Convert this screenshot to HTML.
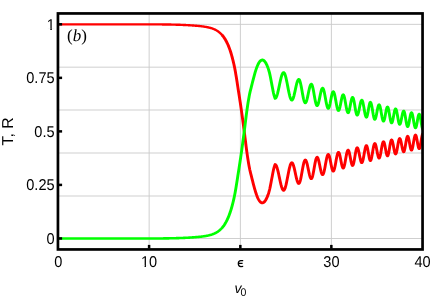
<!DOCTYPE html>
<html><head><meta charset="utf-8"><style>
html,body{margin:0;padding:0;background:#fff;}
svg{display:block}
text{font-family:"Liberation Sans",sans-serif;font-size:14px;fill:#000;text-rendering:geometricPrecision}
</style></head><body>
<svg width="436" height="300" viewBox="0 0 436 300">
<defs><clipPath id="cp"><rect x="58" y="13" width="364.5" height="236"/></clipPath></defs>
<rect width="436" height="300" fill="#fff"/>
<g stroke="#cacaca" stroke-width="0.9" fill="none"><line x1="149.15" y1="13" x2="149.15" y2="249" /><line x1="240.40" y1="13" x2="240.40" y2="249" /><line x1="331.40" y1="13" x2="331.40" y2="249" /><line x1="58" y1="238.50" x2="422.5" y2="238.50" /><line x1="58" y1="196.00" x2="422.5" y2="196.00" /><line x1="58" y1="153.00" x2="422.5" y2="153.00" /><line x1="58" y1="110.00" x2="422.5" y2="110.00" /><line x1="58" y1="67.17" x2="422.5" y2="67.17" /><line x1="58" y1="24.36" x2="422.5" y2="24.36" /></g>
<g fill="none" stroke-linejoin="round" stroke-linecap="butt" clip-path="url(#cp)">
<path d="M58.25,24.36 L58.65,24.36 L59.05,24.36 L59.45,24.36 L59.85,24.36 L60.25,24.36 L60.65,24.36 L61.05,24.36 L61.45,24.36 L61.85,24.36 L62.25,24.36 L62.65,24.36 L63.05,24.36 L63.45,24.36 L63.85,24.36 L64.25,24.36 L64.65,24.36 L65.05,24.36 L65.45,24.36 L65.85,24.36 L66.25,24.36 L66.65,24.36 L67.05,24.36 L67.45,24.36 L67.85,24.36 L68.25,24.36 L68.65,24.36 L69.05,24.36 L69.45,24.36 L69.85,24.36 L70.25,24.36 L70.65,24.36 L71.05,24.36 L71.45,24.36 L71.85,24.36 L72.25,24.36 L72.65,24.36 L73.05,24.36 L73.45,24.36 L73.85,24.36 L74.25,24.36 L74.65,24.36 L75.05,24.36 L75.45,24.36 L75.85,24.36 L76.25,24.36 L76.65,24.36 L77.05,24.36 L77.45,24.36 L77.85,24.36 L78.25,24.36 L78.65,24.36 L79.05,24.36 L79.45,24.36 L79.85,24.36 L80.25,24.36 L80.65,24.36 L81.05,24.36 L81.45,24.36 L81.85,24.36 L82.25,24.36 L82.65,24.36 L83.05,24.36 L83.45,24.36 L83.85,24.36 L84.25,24.36 L84.65,24.36 L85.05,24.36 L85.45,24.36 L85.85,24.36 L86.25,24.36 L86.65,24.36 L87.05,24.36 L87.45,24.36 L87.85,24.36 L88.25,24.36 L88.65,24.36 L89.05,24.36 L89.45,24.36 L89.85,24.36 L90.25,24.36 L90.65,24.36 L91.05,24.36 L91.45,24.36 L91.85,24.36 L92.25,24.36 L92.65,24.36 L93.05,24.36 L93.45,24.36 L93.85,24.36 L94.25,24.36 L94.65,24.36 L95.05,24.36 L95.45,24.36 L95.85,24.36 L96.25,24.36 L96.65,24.36 L97.05,24.36 L97.45,24.36 L97.85,24.36 L98.25,24.36 L98.65,24.36 L99.05,24.36 L99.45,24.36 L99.85,24.36 L100.25,24.36 L100.65,24.36 L101.05,24.36 L101.45,24.36 L101.85,24.36 L102.25,24.36 L102.65,24.36 L103.05,24.36 L103.45,24.36 L103.85,24.36 L104.25,24.36 L104.65,24.36 L105.05,24.36 L105.45,24.36 L105.85,24.36 L106.25,24.36 L106.65,24.36 L107.05,24.36 L107.45,24.36 L107.85,24.36 L108.25,24.36 L108.65,24.36 L109.05,24.36 L109.45,24.36 L109.85,24.36 L110.25,24.36 L110.65,24.36 L111.05,24.36 L111.45,24.36 L111.85,24.36 L112.25,24.36 L112.65,24.36 L113.05,24.36 L113.45,24.36 L113.85,24.36 L114.25,24.36 L114.65,24.36 L115.05,24.36 L115.45,24.36 L115.85,24.36 L116.25,24.36 L116.65,24.36 L117.05,24.36 L117.45,24.36 L117.85,24.36 L118.25,24.36 L118.65,24.36 L119.05,24.36 L119.45,24.36 L119.85,24.36 L120.25,24.36 L120.65,24.36 L121.05,24.36 L121.45,24.36 L121.85,24.36 L122.25,24.36 L122.65,24.36 L123.05,24.36 L123.45,24.36 L123.85,24.36 L124.25,24.36 L124.65,24.36 L125.05,24.36 L125.45,24.36 L125.85,24.36 L126.25,24.36 L126.65,24.36 L127.05,24.36 L127.45,24.36 L127.85,24.36 L128.25,24.36 L128.65,24.36 L129.05,24.36 L129.45,24.36 L129.85,24.36 L130.25,24.36 L130.65,24.36 L131.05,24.36 L131.45,24.36 L131.85,24.36 L132.25,24.36 L132.65,24.36 L133.05,24.36 L133.45,24.37 L133.85,24.37 L134.25,24.37 L134.65,24.37 L135.05,24.37 L135.45,24.37 L135.85,24.37 L136.25,24.37 L136.65,24.37 L137.05,24.37 L137.45,24.37 L137.85,24.37 L138.25,24.37 L138.65,24.37 L139.05,24.37 L139.45,24.37 L139.85,24.37 L140.25,24.37 L140.65,24.37 L141.05,24.37 L141.45,24.37 L141.85,24.37 L142.25,24.37 L142.65,24.38 L143.05,24.38 L143.45,24.38 L143.85,24.38 L144.25,24.38 L144.65,24.38 L145.05,24.38 L145.45,24.38 L145.85,24.38 L146.25,24.38 L146.65,24.38 L147.05,24.38 L147.45,24.38 L147.85,24.38 L148.25,24.38 L148.65,24.38 L149.05,24.39 L149.45,24.39 L149.85,24.39 L150.25,24.39 L150.65,24.39 L151.05,24.39 L151.45,24.39 L151.85,24.39 L152.25,24.39 L152.65,24.39 L153.05,24.39 L153.45,24.39 L153.85,24.40 L154.25,24.40 L154.65,24.40 L155.05,24.40 L155.45,24.40 L155.85,24.40 L156.25,24.40 L156.65,24.40 L157.05,24.40 L157.45,24.40 L157.85,24.40 L158.25,24.41 L158.65,24.41 L159.05,24.41 L159.45,24.41 L159.85,24.41 L160.25,24.41 L160.65,24.41 L161.05,24.42 L161.45,24.42 L161.85,24.42 L162.25,24.43 L162.65,24.43 L163.05,24.43 L163.45,24.44 L163.85,24.44 L164.25,24.45 L164.65,24.45 L165.05,24.46 L165.45,24.46 L165.85,24.47 L166.25,24.48 L166.65,24.48 L167.05,24.49 L167.45,24.50 L167.85,24.50 L168.25,24.51 L168.65,24.52 L169.05,24.53 L169.45,24.54 L169.85,24.54 L170.25,24.55 L170.65,24.56 L171.05,24.57 L171.45,24.58 L171.85,24.59 L172.25,24.60 L172.65,24.61 L173.05,24.62 L173.45,24.62 L173.85,24.63 L174.25,24.64 L174.65,24.65 L175.05,24.66 L175.45,24.67 L175.85,24.68 L176.25,24.69 L176.65,24.70 L177.05,24.72 L177.45,24.73 L177.85,24.74 L178.25,24.75 L178.65,24.76 L179.05,24.78 L179.45,24.79 L179.85,24.81 L180.25,24.82 L180.65,24.83 L181.05,24.85 L181.45,24.86 L181.85,24.88 L182.25,24.90 L182.65,24.91 L183.05,24.93 L183.45,24.95 L183.85,24.96 L184.25,24.98 L184.65,25.00 L185.05,25.02 L185.45,25.04 L185.85,25.06 L186.25,25.08 L186.65,25.10 L187.05,25.12 L187.45,25.14 L187.85,25.16 L188.25,25.18 L188.65,25.21 L189.05,25.23 L189.45,25.25 L189.85,25.28 L190.25,25.31 L190.65,25.33 L191.05,25.36 L191.45,25.39 L191.85,25.41 L192.25,25.44 L192.65,25.47 L193.05,25.50 L193.45,25.53 L193.85,25.56 L194.25,25.59 L194.65,25.62 L195.05,25.65 L195.45,25.69 L195.85,25.72 L196.25,25.75 L196.65,25.79 L197.05,25.82 L197.45,25.86 L197.85,25.89 L198.25,25.93 L198.65,25.97 L199.05,26.01 L199.45,26.05 L199.85,26.09 L200.25,26.13 L200.65,26.18 L201.05,26.22 L201.45,26.27 L201.85,26.32 L202.25,26.37 L202.65,26.42 L203.05,26.47 L203.45,26.53 L203.85,26.59 L204.25,26.64 L204.65,26.70 L205.05,26.77 L205.45,26.83 L205.85,26.90 L206.25,26.97 L206.65,27.05 L207.05,27.12 L207.45,27.20 L207.85,27.28 L208.25,27.37 L208.65,27.46 L209.05,27.56 L209.45,27.65 L209.85,27.76 L210.25,27.87 L210.65,27.98 L211.05,28.10 L211.45,28.22 L211.85,28.35 L212.25,28.49 L212.65,28.63 L213.05,28.78 L213.45,28.94 L213.85,29.10 L214.25,29.28 L214.65,29.46 L215.05,29.65 L215.45,29.85 L215.85,30.06 L216.25,30.28 L216.65,30.51 L217.05,30.75 L217.45,31.00 L217.85,31.27 L218.25,31.55 L218.65,31.84 L219.05,32.15 L219.45,32.47 L219.85,32.81 L220.25,33.17 L220.65,33.54 L221.05,33.93 L221.45,34.35 L221.85,34.78 L222.25,35.23" stroke="#ff0000" stroke-width="2.4"/>
<path d="M221.85,34.78 L222.25,35.23 L222.65,35.71 L223.05,36.21 L223.45,36.73 L223.85,37.28 L224.25,37.86 L224.65,38.47 L225.05,39.10 L225.45,39.77 L225.85,40.47 L226.25,41.20 L226.65,41.97 L227.05,42.78 L227.45,43.63 L227.85,44.51 L228.25,45.44 L228.65,46.42 L229.05,47.44 L229.45,48.50 L229.85,49.62 L230.25,50.79 L230.65,52.02 L231.05,53.30 L231.45,54.64 L231.85,56.04 L232.25,57.50 L232.65,59.03 L233.05,60.62 L233.45,62.29 L233.85,64.02 L234.25,65.85 L234.65,67.81 L235.05,69.88 L235.45,72.08 L235.85,74.38 L236.25,76.79 L236.65,79.28 L237.05,81.84 L237.45,84.45 L237.85,87.10 L238.25,89.66 L238.65,92.18 L239.05,94.72 L239.45,97.30 L239.85,99.92 L240.25,102.57 L240.65,105.26 L241.05,107.99 L241.45,110.77 L241.85,113.59 L242.25,116.46 L242.65,119.39 L243.05,122.36 L243.45,125.39 L243.85,128.46 L244.25,131.55 L244.65,134.66 L245.05,137.83 L245.45,141.04 L245.85,144.26 L246.25,147.44 L246.65,150.51 L247.05,153.41 L247.45,156.16 L247.85,158.80 L248.25,161.31 L248.65,163.69 L249.05,165.94 L249.45,168.04 L249.85,169.98 L250.25,171.69 L250.65,173.27 L251.05,174.82 L251.45,176.41 L251.85,178.03 L252.25,179.63 L252.65,181.22 L253.05,182.78 L253.45,184.32 L253.85,185.85 L254.25,187.35 L254.65,188.80 L255.05,190.17 L255.45,191.49 L255.85,192.76 L256.25,193.97 L256.65,195.10 L257.05,196.15 L257.45,197.14 L257.85,198.05 L258.25,198.86 L258.65,199.62 L259.05,200.31 L259.45,200.90 L259.85,201.40 L260.25,201.86 L260.65,202.24 L261.05,202.48 L261.45,202.66 L261.85,202.80 L262.25,202.86 L262.65,202.82 L263.05,202.70 L263.45,202.53 L263.85,202.31 L264.25,201.96 L264.65,201.52 L265.05,201.02 L265.45,200.47 L265.85,199.80 L266.25,199.06 L266.65,198.26 L267.05,197.39 L267.45,196.42 L267.85,195.38 L268.25,194.24 L268.65,193.00 L269.05,191.64 L269.45,190.16 L269.85,188.49 L270.25,186.61 L270.65,184.58 L271.05,182.47 L271.45,180.33 L271.85,178.23 L272.25,176.20 L272.65,174.10 L273.05,171.99 L273.45,170.03 L273.85,168.37 L274.25,166.95 L274.65,165.69 L275.05,164.63 L275.10,164.51 L275.45,164.62 L275.81,164.95 L276.16,165.49 L276.52,166.23 L276.87,167.17 L277.23,168.28 L277.58,169.55 L277.93,170.95 L278.29,172.46 L278.64,174.05 L279.00,175.70 L279.35,177.39 L279.70,179.07 L280.06,180.72 L280.41,182.31 L280.77,183.82 L281.12,185.22 L281.48,186.49 L281.83,187.60 L282.18,188.54 L282.54,189.28 L282.89,189.82 L283.25,190.15 L283.60,190.26 L283.94,190.14 L284.29,189.79 L284.63,189.21 L284.98,188.42 L285.32,187.42 L285.66,186.23 L286.01,184.88 L286.35,183.39 L286.69,181.77 L287.04,180.07 L287.38,178.30 L287.73,176.51 L288.07,174.72 L288.41,172.95 L288.76,171.25 L289.10,169.64 L289.44,168.14 L289.79,166.79 L290.13,165.60 L290.48,164.60 L290.82,163.81 L291.16,163.23 L291.51,162.88 L291.85,162.76 L292.14,162.85 L292.43,163.11 L292.72,163.55 L293.01,164.15 L293.30,164.90 L293.59,165.79 L293.88,166.81 L294.17,167.94 L294.46,169.15 L294.75,170.43 L295.04,171.76 L295.33,173.11 L295.61,174.46 L295.90,175.79 L296.19,177.07 L296.48,178.29 L296.77,179.41 L297.06,180.43 L297.35,181.32 L297.64,182.07 L297.93,182.67 L298.22,183.11 L298.51,183.37 L298.80,183.46 L299.07,183.36 L299.34,183.06 L299.61,182.57 L299.88,181.89 L300.15,181.04 L300.43,180.03 L300.70,178.88 L300.97,177.61 L301.24,176.24 L301.51,174.79 L301.78,173.29 L302.05,171.76 L302.32,170.23 L302.59,168.73 L302.86,167.28 L303.13,165.91 L303.40,164.64 L303.68,163.49 L303.95,162.48 L304.22,161.63 L304.49,160.95 L304.76,160.46 L305.03,160.16 L305.30,160.06 L305.55,160.14 L305.80,160.38 L306.05,160.77 L306.30,161.31 L306.55,161.98 L306.80,162.78 L307.05,163.70 L307.30,164.71 L307.55,165.80 L307.80,166.95 L308.05,168.15 L308.30,169.36 L308.55,170.57 L308.80,171.77 L309.05,172.92 L309.30,174.01 L309.55,175.02 L309.80,175.94 L310.05,176.74 L310.30,177.41 L310.55,177.95 L310.80,178.34 L311.05,178.58 L311.30,178.66 L311.54,178.57 L311.78,178.30 L312.03,177.85 L312.27,177.23 L312.51,176.45 L312.75,175.53 L312.99,174.47 L313.23,173.31 L313.48,172.05 L313.72,170.73 L313.96,169.36 L314.20,167.96 L314.44,166.56 L314.68,165.19 L314.93,163.87 L315.17,162.61 L315.41,161.45 L315.65,160.39 L315.89,159.47 L316.13,158.69 L316.38,158.07 L316.62,157.62 L316.86,157.35 L317.10,157.26 L317.33,157.33 L317.56,157.56 L317.79,157.92 L318.02,158.43 L318.25,159.06 L318.48,159.81 L318.70,160.66 L318.93,161.61 L319.16,162.63 L319.39,163.71 L319.62,164.82 L319.85,165.96 L320.08,167.10 L320.31,168.21 L320.54,169.29 L320.77,170.31 L321.00,171.26 L321.23,172.11 L321.45,172.86 L321.68,173.49 L321.91,174.00 L322.14,174.36 L322.37,174.59 L322.60,174.66 L322.84,174.57 L323.08,174.32 L323.31,173.89 L323.55,173.31 L323.79,172.57 L324.03,171.70 L324.26,170.71 L324.50,169.61 L324.74,168.43 L324.98,167.17 L325.21,165.88 L325.45,164.56 L325.69,163.24 L325.93,161.95 L326.16,160.69 L326.40,159.51 L326.64,158.41 L326.88,157.42 L327.11,156.55 L327.35,155.81 L327.59,155.23 L327.82,154.80 L328.06,154.55 L328.30,154.46 L328.51,154.53 L328.71,154.74 L328.92,155.10 L329.12,155.58 L329.33,156.19 L329.54,156.91 L329.74,157.73 L329.95,158.64 L330.16,159.61 L330.36,160.65 L330.57,161.72 L330.77,162.81 L330.98,163.90 L331.19,164.97 L331.39,166.01 L331.60,166.99 L331.81,167.89 L332.01,168.71 L332.22,169.43 L332.43,170.04 L332.63,170.52 L332.84,170.88 L333.04,171.09 L333.25,171.16 L333.47,171.08 L333.69,170.84 L333.91,170.44 L334.12,169.90 L334.34,169.22 L334.56,168.41 L334.78,167.48 L335.00,166.46 L335.22,165.36 L335.44,164.19 L335.66,162.99 L335.88,161.76 L336.09,160.53 L336.31,159.33 L336.53,158.16 L336.75,157.06 L336.97,156.04 L337.19,155.11 L337.41,154.30 L337.62,153.62 L337.84,153.08 L338.06,152.68 L338.28,152.44 L338.50,152.36 L338.70,152.43 L338.89,152.63 L339.09,152.96 L339.28,153.41 L339.48,153.98 L339.68,154.66 L339.87,155.43 L340.07,156.29 L340.26,157.21 L340.46,158.18 L340.65,159.19 L340.85,160.21 L341.05,161.23 L341.24,162.24 L341.44,163.21 L341.63,164.13 L341.83,164.99 L342.02,165.76 L342.22,166.44 L342.42,167.01 L342.61,167.46 L342.81,167.79 L343.00,167.99 L343.20,168.06 L343.40,167.98 L343.61,167.76 L343.81,167.38 L344.02,166.86 L344.22,166.21 L344.43,165.44 L344.63,164.56 L344.83,163.59 L345.04,162.54 L345.24,161.43 L345.45,160.28 L345.65,159.11 L345.85,157.94 L346.06,156.79 L346.26,155.68 L346.47,154.64 L346.67,153.66 L346.88,152.78 L347.08,152.01 L347.28,151.36 L347.49,150.84 L347.69,150.46 L347.90,150.24 L348.10,150.16 L348.29,150.23 L348.48,150.42 L348.66,150.74 L348.85,151.18 L349.04,151.74 L349.23,152.40 L349.41,153.15 L349.60,153.99 L349.79,154.88 L349.98,155.83 L350.16,156.81 L350.35,157.81 L350.54,158.81 L350.73,159.79 L350.91,160.74 L351.10,161.64 L351.29,162.47 L351.48,163.22 L351.66,163.88 L351.85,164.44 L352.04,164.88 L352.23,165.20 L352.41,165.39 L352.60,165.46 L352.79,165.38 L352.98,165.16 L353.18,164.79 L353.37,164.27 L353.56,163.63 L353.75,162.87 L353.94,162.00 L354.13,161.04 L354.32,160.00 L354.52,158.90 L354.71,157.77 L354.90,156.61 L355.09,155.45 L355.28,154.32 L355.48,153.22 L355.67,152.19 L355.86,151.22 L356.05,150.35 L356.24,149.59 L356.43,148.95 L356.62,148.43 L356.82,148.06 L357.01,147.84 L357.20,147.76 L357.39,147.82 L357.58,148.01 L357.77,148.33 L357.97,148.76 L358.16,149.30 L358.35,149.94 L358.54,150.67 L358.73,151.49 L358.93,152.36 L359.12,153.28 L359.31,154.24 L359.50,155.21 L359.69,156.18 L359.88,157.14 L360.07,158.06 L360.27,158.94 L360.46,159.75 L360.65,160.48 L360.84,161.12 L361.03,161.66 L361.23,162.09 L361.42,162.41 L361.61,162.60 L361.80,162.66 L361.99,162.59 L362.18,162.37 L362.38,162.01 L362.57,161.52 L362.76,160.90 L362.95,160.17 L363.14,159.33 L363.33,158.41 L363.52,157.41 L363.72,156.36 L363.91,155.27 L364.10,154.16 L364.29,153.05 L364.48,151.96 L364.68,150.91 L364.87,149.91 L365.06,148.99 L365.25,148.15 L365.44,147.42 L365.63,146.80 L365.82,146.31 L366.02,145.95 L366.21,145.73 L366.40,145.66 L366.57,145.72 L366.73,145.91 L366.90,146.23 L367.07,146.66 L367.23,147.20 L367.40,147.84 L367.57,148.57 L367.73,149.38 L367.90,150.26 L368.07,151.18 L368.23,152.14 L368.40,153.11 L368.57,154.08 L368.73,155.04 L368.90,155.96 L369.07,156.84 L369.23,157.65 L369.40,158.38 L369.57,159.02 L369.73,159.56 L369.90,159.99 L370.07,160.31 L370.23,160.50 L370.40,160.56 L370.58,160.49 L370.77,160.27 L370.95,159.91 L371.13,159.42 L371.32,158.80 L371.50,158.07 L371.68,157.23 L371.87,156.31 L372.05,155.31 L372.23,154.26 L372.42,153.17 L372.60,152.06 L372.78,150.95 L372.97,149.86 L373.15,148.81 L373.33,147.81 L373.52,146.89 L373.70,146.05 L373.88,145.32 L374.07,144.70 L374.25,144.21 L374.43,143.85 L374.62,143.63 L374.80,143.56 L374.98,143.62 L375.16,143.81 L375.34,144.11 L375.52,144.53 L375.70,145.06 L375.88,145.68 L376.05,146.40 L376.23,147.19 L376.41,148.04 L376.59,148.93 L376.77,149.86 L376.95,150.81 L377.13,151.76 L377.31,152.69 L377.49,153.58 L377.67,154.44 L377.85,155.22 L378.03,155.94 L378.20,156.56 L378.38,157.09 L378.56,157.51 L378.74,157.81 L378.92,158.00 L379.10,158.06 L379.28,157.99 L379.47,157.78 L379.65,157.44 L379.83,156.97 L380.02,156.38 L380.20,155.67 L380.38,154.87 L380.57,153.99 L380.75,153.03 L380.93,152.02 L381.12,150.97 L381.30,149.91 L381.48,148.85 L381.67,147.80 L381.85,146.79 L382.03,145.84 L382.22,144.95 L382.40,144.15 L382.58,143.44 L382.77,142.85 L382.95,142.38 L383.13,142.04 L383.32,141.83 L383.50,141.76 L383.67,141.82 L383.83,142.00 L384.00,142.30 L384.17,142.70 L384.33,143.22 L384.50,143.82 L384.67,144.52 L384.83,145.29 L385.00,146.11 L385.17,146.99 L385.33,147.89 L385.50,148.81 L385.67,149.73 L385.83,150.63 L386.00,151.51 L386.17,152.34 L386.33,153.10 L386.50,153.80 L386.67,154.40 L386.83,154.92 L387.00,155.32 L387.17,155.62 L387.33,155.80 L387.50,155.86 L387.67,155.79 L387.84,155.59 L388.01,155.25 L388.18,154.79 L388.35,154.22 L388.52,153.53 L388.70,152.75 L388.87,151.89 L389.04,150.95 L389.21,149.97 L389.38,148.95 L389.55,147.91 L389.72,146.87 L389.89,145.85 L390.06,144.87 L390.23,143.94 L390.40,143.07 L390.58,142.29 L390.75,141.60 L390.92,141.03 L391.09,140.57 L391.26,140.23 L391.43,140.03 L391.60,139.96 L391.77,140.02 L391.93,140.20 L392.10,140.49 L392.27,140.90 L392.43,141.41 L392.60,142.01 L392.77,142.70 L392.93,143.46 L393.10,144.28 L393.27,145.15 L393.43,146.05 L393.60,146.96 L393.77,147.87 L393.93,148.77 L394.10,149.64 L394.27,150.46 L394.43,151.22 L394.60,151.91 L394.77,152.51 L394.93,153.02 L395.10,153.43 L395.27,153.72 L395.43,153.90 L395.60,153.96 L395.77,153.89 L395.94,153.70 L396.11,153.37 L396.28,152.93 L396.45,152.37 L396.62,151.70 L396.80,150.95 L396.97,150.11 L397.14,149.21 L397.31,148.25 L397.48,147.27 L397.65,146.26 L397.82,145.25 L397.99,144.27 L398.16,143.31 L398.33,142.41 L398.50,141.57 L398.68,140.82 L398.85,140.15 L399.02,139.59 L399.19,139.15 L399.36,138.82 L399.53,138.63 L399.70,138.56 L399.87,138.62 L400.03,138.78 L400.20,139.06 L400.37,139.44 L400.53,139.92 L400.70,140.49 L400.87,141.14 L401.03,141.86 L401.20,142.63 L401.37,143.45 L401.53,144.30 L401.70,145.16 L401.87,146.02 L402.03,146.87 L402.20,147.69 L402.37,148.46 L402.53,149.18 L402.70,149.83 L402.87,150.40 L403.03,150.88 L403.20,151.26 L403.37,151.54 L403.53,151.70 L403.70,151.76 L403.86,151.69 L404.03,151.50 L404.19,151.17 L404.36,150.73 L404.52,150.16 L404.69,149.50 L404.85,148.74 L405.02,147.90 L405.18,146.99 L405.35,146.03 L405.51,145.04 L405.67,144.04 L405.84,143.03 L406.00,142.04 L406.17,141.08 L406.33,140.17 L406.50,139.33 L406.66,138.57 L406.83,137.91 L406.99,137.34 L407.16,136.90 L407.32,136.57 L407.49,136.38 L407.65,136.31 L407.81,136.37 L407.97,136.55 L408.13,136.84 L408.29,137.24 L408.45,137.74 L408.61,138.34 L408.77,139.02 L408.93,139.77 L409.09,140.58 L409.25,141.44 L409.41,142.33 L409.57,143.24 L409.74,144.14 L409.90,145.03 L410.06,145.89 L410.22,146.70 L410.38,147.45 L410.54,148.13 L410.70,148.73 L410.86,149.23 L411.02,149.63 L411.18,149.92 L411.34,150.10 L411.50,150.16 L411.67,150.10 L411.83,149.90 L412.00,149.59 L412.17,149.15 L412.33,148.60 L412.50,147.95 L412.67,147.21 L412.83,146.39 L413.00,145.50 L413.17,144.56 L413.33,143.60 L413.50,142.61 L413.67,141.62 L413.83,140.66 L414.00,139.72 L414.17,138.84 L414.33,138.01 L414.50,137.27 L414.67,136.62 L414.83,136.07 L415.00,135.63 L415.17,135.32 L415.33,135.12 L415.50,135.06 L415.65,135.12 L415.81,135.29 L415.96,135.58 L416.12,135.97 L416.27,136.47 L416.43,137.05 L416.58,137.72 L416.73,138.46 L416.89,139.26 L417.04,140.10 L417.20,140.97 L417.35,141.86 L417.50,142.75 L417.66,143.62 L417.81,144.46 L417.97,145.26 L418.12,146.00 L418.27,146.67 L418.43,147.25 L418.58,147.75 L418.74,148.14 L418.89,148.43 L419.05,148.60 L419.20,148.66 L419.36,148.60 L419.52,148.40 L419.68,148.09 L419.83,147.65 L419.99,147.10 L420.15,146.45 L420.31,145.71 L420.47,144.89 L420.62,144.00 L420.78,143.06 L420.94,142.10 L421.10,141.11 L421.26,140.12 L421.42,139.16 L421.57,138.22 L421.73,137.34 L421.89,136.51 L422.05,135.77 L422.21,135.12 L422.37,134.57 L422.52,134.13 L422.68,133.82 L422.84,133.62" stroke="#ff0000" stroke-width="2.9"/>
<path d="M58.25,238.50 L58.65,238.50 L59.05,238.50 L59.45,238.50 L59.85,238.50 L60.25,238.50 L60.65,238.50 L61.05,238.50 L61.45,238.50 L61.85,238.50 L62.25,238.50 L62.65,238.50 L63.05,238.50 L63.45,238.50 L63.85,238.50 L64.25,238.50 L64.65,238.50 L65.05,238.50 L65.45,238.50 L65.85,238.50 L66.25,238.50 L66.65,238.50 L67.05,238.50 L67.45,238.50 L67.85,238.50 L68.25,238.50 L68.65,238.50 L69.05,238.50 L69.45,238.50 L69.85,238.50 L70.25,238.50 L70.65,238.50 L71.05,238.50 L71.45,238.50 L71.85,238.50 L72.25,238.50 L72.65,238.50 L73.05,238.50 L73.45,238.50 L73.85,238.50 L74.25,238.50 L74.65,238.50 L75.05,238.50 L75.45,238.50 L75.85,238.50 L76.25,238.50 L76.65,238.50 L77.05,238.50 L77.45,238.50 L77.85,238.50 L78.25,238.50 L78.65,238.50 L79.05,238.50 L79.45,238.50 L79.85,238.50 L80.25,238.50 L80.65,238.50 L81.05,238.50 L81.45,238.50 L81.85,238.50 L82.25,238.50 L82.65,238.50 L83.05,238.50 L83.45,238.50 L83.85,238.50 L84.25,238.50 L84.65,238.50 L85.05,238.50 L85.45,238.50 L85.85,238.50 L86.25,238.50 L86.65,238.50 L87.05,238.50 L87.45,238.50 L87.85,238.50 L88.25,238.50 L88.65,238.50 L89.05,238.50 L89.45,238.50 L89.85,238.50 L90.25,238.50 L90.65,238.50 L91.05,238.50 L91.45,238.50 L91.85,238.50 L92.25,238.50 L92.65,238.50 L93.05,238.50 L93.45,238.50 L93.85,238.50 L94.25,238.50 L94.65,238.50 L95.05,238.50 L95.45,238.50 L95.85,238.50 L96.25,238.50 L96.65,238.50 L97.05,238.50 L97.45,238.50 L97.85,238.50 L98.25,238.50 L98.65,238.50 L99.05,238.50 L99.45,238.50 L99.85,238.50 L100.25,238.50 L100.65,238.50 L101.05,238.50 L101.45,238.50 L101.85,238.50 L102.25,238.50 L102.65,238.50 L103.05,238.50 L103.45,238.50 L103.85,238.50 L104.25,238.50 L104.65,238.50 L105.05,238.50 L105.45,238.50 L105.85,238.50 L106.25,238.50 L106.65,238.50 L107.05,238.50 L107.45,238.50 L107.85,238.50 L108.25,238.50 L108.65,238.50 L109.05,238.50 L109.45,238.50 L109.85,238.50 L110.25,238.50 L110.65,238.50 L111.05,238.50 L111.45,238.50 L111.85,238.50 L112.25,238.50 L112.65,238.50 L113.05,238.50 L113.45,238.50 L113.85,238.50 L114.25,238.50 L114.65,238.50 L115.05,238.50 L115.45,238.50 L115.85,238.50 L116.25,238.50 L116.65,238.50 L117.05,238.50 L117.45,238.50 L117.85,238.50 L118.25,238.50 L118.65,238.50 L119.05,238.50 L119.45,238.50 L119.85,238.50 L120.25,238.50 L120.65,238.50 L121.05,238.50 L121.45,238.50 L121.85,238.50 L122.25,238.50 L122.65,238.50 L123.05,238.50 L123.45,238.50 L123.85,238.50 L124.25,238.50 L124.65,238.50 L125.05,238.50 L125.45,238.50 L125.85,238.50 L126.25,238.50 L126.65,238.50 L127.05,238.50 L127.45,238.50 L127.85,238.50 L128.25,238.50 L128.65,238.50 L129.05,238.50 L129.45,238.50 L129.85,238.50 L130.25,238.50 L130.65,238.50 L131.05,238.50 L131.45,238.50 L131.85,238.50 L132.25,238.50 L132.65,238.50 L133.05,238.50 L133.45,238.49 L133.85,238.49 L134.25,238.49 L134.65,238.49 L135.05,238.49 L135.45,238.49 L135.85,238.49 L136.25,238.49 L136.65,238.49 L137.05,238.49 L137.45,238.49 L137.85,238.49 L138.25,238.49 L138.65,238.49 L139.05,238.49 L139.45,238.49 L139.85,238.49 L140.25,238.49 L140.65,238.49 L141.05,238.49 L141.45,238.49 L141.85,238.49 L142.25,238.49 L142.65,238.48 L143.05,238.48 L143.45,238.48 L143.85,238.48 L144.25,238.48 L144.65,238.48 L145.05,238.48 L145.45,238.48 L145.85,238.48 L146.25,238.48 L146.65,238.48 L147.05,238.48 L147.45,238.48 L147.85,238.48 L148.25,238.48 L148.65,238.48 L149.05,238.47 L149.45,238.47 L149.85,238.47 L150.25,238.47 L150.65,238.47 L151.05,238.47 L151.45,238.47 L151.85,238.47 L152.25,238.47 L152.65,238.47 L153.05,238.47 L153.45,238.47 L153.85,238.46 L154.25,238.46 L154.65,238.46 L155.05,238.46 L155.45,238.46 L155.85,238.46 L156.25,238.46 L156.65,238.46 L157.05,238.46 L157.45,238.46 L157.85,238.46 L158.25,238.45 L158.65,238.45 L159.05,238.45 L159.45,238.45 L159.85,238.45 L160.25,238.45 L160.65,238.45 L161.05,238.44 L161.45,238.44 L161.85,238.44 L162.25,238.43 L162.65,238.43 L163.05,238.43 L163.45,238.42 L163.85,238.42 L164.25,238.41 L164.65,238.41 L165.05,238.40 L165.45,238.40 L165.85,238.39 L166.25,238.38 L166.65,238.38 L167.05,238.37 L167.45,238.36 L167.85,238.36 L168.25,238.35 L168.65,238.34 L169.05,238.33 L169.45,238.32 L169.85,238.32 L170.25,238.31 L170.65,238.30 L171.05,238.29 L171.45,238.28 L171.85,238.27 L172.25,238.26 L172.65,238.25 L173.05,238.24 L173.45,238.24 L173.85,238.23 L174.25,238.22 L174.65,238.21 L175.05,238.20 L175.45,238.19 L175.85,238.18 L176.25,238.17 L176.65,238.16 L177.05,238.14 L177.45,238.13 L177.85,238.12 L178.25,238.11 L178.65,238.10 L179.05,238.08 L179.45,238.07 L179.85,238.05 L180.25,238.04 L180.65,238.03 L181.05,238.01 L181.45,238.00 L181.85,237.98 L182.25,237.96 L182.65,237.95 L183.05,237.93 L183.45,237.91 L183.85,237.90 L184.25,237.88 L184.65,237.86 L185.05,237.84 L185.45,237.82 L185.85,237.80 L186.25,237.78 L186.65,237.76 L187.05,237.74 L187.45,237.72 L187.85,237.70 L188.25,237.68 L188.65,237.65 L189.05,237.63 L189.45,237.61 L189.85,237.58 L190.25,237.55 L190.65,237.53 L191.05,237.50 L191.45,237.47 L191.85,237.45 L192.25,237.42 L192.65,237.39 L193.05,237.36 L193.45,237.33 L193.85,237.30 L194.25,237.27 L194.65,237.24 L195.05,237.21 L195.45,237.17 L195.85,237.14 L196.25,237.11 L196.65,237.07 L197.05,237.04 L197.45,237.00 L197.85,236.97 L198.25,236.93 L198.65,236.89 L199.05,236.85 L199.45,236.81 L199.85,236.77 L200.25,236.73 L200.65,236.68 L201.05,236.64 L201.45,236.59 L201.85,236.54 L202.25,236.49 L202.65,236.44 L203.05,236.39 L203.45,236.33 L203.85,236.27 L204.25,236.22 L204.65,236.16 L205.05,236.09 L205.45,236.03 L205.85,235.96 L206.25,235.89 L206.65,235.81 L207.05,235.74 L207.45,235.66 L207.85,235.58 L208.25,235.49 L208.65,235.40 L209.05,235.30 L209.45,235.21 L209.85,235.10 L210.25,234.99 L210.65,234.88 L211.05,234.76 L211.45,234.64 L211.85,234.51 L212.25,234.37 L212.65,234.23 L213.05,234.08 L213.45,233.92 L213.85,233.76 L214.25,233.58 L214.65,233.40 L215.05,233.21 L215.45,233.01 L215.85,232.80 L216.25,232.58 L216.65,232.35 L217.05,232.11 L217.45,231.86 L217.85,231.59 L218.25,231.31 L218.65,231.02 L219.05,230.71 L219.45,230.39 L219.85,230.05 L220.25,229.69 L220.65,229.32 L221.05,228.93 L221.45,228.51 L221.85,228.08 L222.25,227.63" stroke="#00ff00" stroke-width="2.6"/>
<path d="M221.85,228.08 L222.25,227.63 L222.65,227.15 L223.05,226.65 L223.45,226.13 L223.85,225.58 L224.25,225.00 L224.65,224.39 L225.05,223.76 L225.45,223.09 L225.85,222.39 L226.25,221.66 L226.65,220.89 L227.05,220.08 L227.45,219.23 L227.85,218.35 L228.25,217.42 L228.65,216.44 L229.05,215.42 L229.45,214.36 L229.85,213.24 L230.25,212.07 L230.65,210.84 L231.05,209.56 L231.45,208.22 L231.85,206.82 L232.25,205.36 L232.65,203.83 L233.05,202.24 L233.45,200.57 L233.85,198.84 L234.25,197.01 L234.65,195.05 L235.05,192.98 L235.45,190.78 L235.85,188.48 L236.25,186.07 L236.65,183.58 L237.05,181.02 L237.45,178.41 L237.85,175.76 L238.25,173.20 L238.65,170.68 L239.05,168.14 L239.45,165.56 L239.85,162.94 L240.25,160.29 L240.65,157.60 L241.05,154.87 L241.45,152.09 L241.85,149.27 L242.25,146.40 L242.65,143.47 L243.05,140.50 L243.45,137.47 L243.85,134.40 L244.25,131.31 L244.65,128.20 L245.05,125.03 L245.45,121.82 L245.85,118.60 L246.25,115.42 L246.65,112.35 L247.05,109.45 L247.45,106.70 L247.85,104.06 L248.25,101.55 L248.65,99.17 L249.05,96.92 L249.45,94.82 L249.85,92.88 L250.25,91.17 L250.65,89.59 L251.05,88.04 L251.45,86.45 L251.85,84.83 L252.25,83.23 L252.65,81.64 L253.05,80.08 L253.45,78.54 L253.85,77.01 L254.25,75.51 L254.65,74.06 L255.05,72.69 L255.45,71.37 L255.85,70.10 L256.25,68.89 L256.65,67.76 L257.05,66.71 L257.45,65.72 L257.85,64.81 L258.25,64.00 L258.65,63.24 L259.05,62.55 L259.45,61.96 L259.85,61.46 L260.25,61.00 L260.65,60.62 L261.05,60.38 L261.45,60.20 L261.85,60.06 L262.25,60.00 L262.65,60.04 L263.05,60.16 L263.45,60.33 L263.85,60.55 L264.25,60.90 L264.65,61.34 L265.05,61.84 L265.45,62.39 L265.85,63.06 L266.25,63.80 L266.65,64.60 L267.05,65.47 L267.45,66.44 L267.85,67.48 L268.25,68.62 L268.65,69.86 L269.05,71.22 L269.45,72.70 L269.85,74.37 L270.25,76.25 L270.65,78.28 L271.05,80.39 L271.45,82.53 L271.85,84.63 L272.25,86.66 L272.65,88.76 L273.05,90.87 L273.45,92.83 L273.85,94.49 L274.25,95.91 L274.65,97.17 L275.05,98.23 L275.10,98.35 L275.45,98.24 L275.81,97.91 L276.16,97.37 L276.52,96.63 L276.87,95.69 L277.23,94.58 L277.58,93.31 L277.93,91.91 L278.29,90.40 L278.64,88.81 L279.00,87.16 L279.35,85.47 L279.70,83.79 L280.06,82.14 L280.41,80.55 L280.77,79.04 L281.12,77.64 L281.48,76.37 L281.83,75.26 L282.18,74.32 L282.54,73.58 L282.89,73.04 L283.25,72.71 L283.60,72.60 L283.94,72.72 L284.29,73.07 L284.63,73.65 L284.98,74.44 L285.32,75.44 L285.66,76.63 L286.01,77.98 L286.35,79.47 L286.69,81.09 L287.04,82.79 L287.38,84.56 L287.73,86.35 L288.07,88.14 L288.41,89.91 L288.76,91.61 L289.10,93.22 L289.44,94.72 L289.79,96.07 L290.13,97.26 L290.48,98.26 L290.82,99.05 L291.16,99.63 L291.51,99.98 L291.85,100.10 L292.14,100.01 L292.43,99.75 L292.72,99.31 L293.01,98.71 L293.30,97.96 L293.59,97.07 L293.88,96.05 L294.17,94.92 L294.46,93.71 L294.75,92.43 L295.04,91.10 L295.33,89.75 L295.61,88.40 L295.90,87.07 L296.19,85.79 L296.48,84.58 L296.77,83.45 L297.06,82.43 L297.35,81.54 L297.64,80.79 L297.93,80.19 L298.22,79.75 L298.51,79.49 L298.80,79.40 L299.07,79.50 L299.34,79.80 L299.61,80.29 L299.88,80.97 L300.15,81.82 L300.43,82.83 L300.70,83.98 L300.97,85.25 L301.24,86.62 L301.51,88.07 L301.78,89.57 L302.05,91.10 L302.32,92.63 L302.59,94.13 L302.86,95.58 L303.13,96.95 L303.40,98.22 L303.68,99.37 L303.95,100.38 L304.22,101.23 L304.49,101.91 L304.76,102.40 L305.03,102.70 L305.30,102.80 L305.55,102.72 L305.80,102.48 L306.05,102.09 L306.30,101.55 L306.55,100.88 L306.80,100.08 L307.05,99.16 L307.30,98.15 L307.55,97.06 L307.80,95.91 L308.05,94.71 L308.30,93.50 L308.55,92.29 L308.80,91.09 L309.05,89.94 L309.30,88.85 L309.55,87.84 L309.80,86.92 L310.05,86.12 L310.30,85.45 L310.55,84.91 L310.80,84.52 L311.05,84.28 L311.30,84.20 L311.54,84.29 L311.78,84.56 L312.03,85.01 L312.27,85.63 L312.51,86.41 L312.75,87.33 L312.99,88.39 L313.23,89.55 L313.48,90.81 L313.72,92.13 L313.96,93.50 L314.20,94.90 L314.44,96.30 L314.68,97.67 L314.93,98.99 L315.17,100.25 L315.41,101.41 L315.65,102.47 L315.89,103.39 L316.13,104.17 L316.38,104.79 L316.62,105.24 L316.86,105.51 L317.10,105.60 L317.33,105.53 L317.56,105.30 L317.79,104.94 L318.02,104.43 L318.25,103.80 L318.48,103.05 L318.70,102.20 L318.93,101.25 L319.16,100.23 L319.39,99.15 L319.62,98.04 L319.85,96.90 L320.08,95.76 L320.31,94.65 L320.54,93.57 L320.77,92.55 L321.00,91.60 L321.23,90.75 L321.45,90.00 L321.68,89.37 L321.91,88.86 L322.14,88.50 L322.37,88.27 L322.60,88.20 L322.84,88.29 L323.08,88.54 L323.31,88.97 L323.55,89.55 L323.79,90.29 L324.03,91.16 L324.26,92.15 L324.50,93.25 L324.74,94.43 L324.98,95.69 L325.21,96.98 L325.45,98.30 L325.69,99.62 L325.93,100.91 L326.16,102.17 L326.40,103.35 L326.64,104.45 L326.88,105.44 L327.11,106.31 L327.35,107.05 L327.59,107.63 L327.82,108.06 L328.06,108.31 L328.30,108.40 L328.51,108.33 L328.71,108.12 L328.92,107.76 L329.12,107.28 L329.33,106.67 L329.54,105.95 L329.74,105.13 L329.95,104.22 L330.16,103.25 L330.36,102.21 L330.57,101.14 L330.77,100.05 L330.98,98.96 L331.19,97.89 L331.39,96.85 L331.60,95.88 L331.81,94.97 L332.01,94.15 L332.22,93.43 L332.43,92.82 L332.63,92.34 L332.84,91.98 L333.04,91.77 L333.25,91.70 L333.47,91.78 L333.69,92.02 L333.91,92.42 L334.12,92.96 L334.34,93.64 L334.56,94.45 L334.78,95.38 L335.00,96.40 L335.22,97.50 L335.44,98.67 L335.66,99.87 L335.88,101.10 L336.09,102.33 L336.31,103.53 L336.53,104.70 L336.75,105.80 L336.97,106.82 L337.19,107.75 L337.41,108.56 L337.62,109.24 L337.84,109.78 L338.06,110.18 L338.28,110.42 L338.50,110.50 L338.70,110.43 L338.89,110.23 L339.09,109.90 L339.28,109.45 L339.48,108.88 L339.68,108.20 L339.87,107.43 L340.07,106.58 L340.26,105.65 L340.46,104.68 L340.65,103.67 L340.85,102.65 L341.05,101.63 L341.24,100.62 L341.44,99.65 L341.63,98.73 L341.83,97.87 L342.02,97.10 L342.22,96.42 L342.42,95.85 L342.61,95.40 L342.81,95.07 L343.00,94.87 L343.20,94.80 L343.40,94.88 L343.61,95.10 L343.81,95.48 L344.02,96.00 L344.22,96.65 L344.43,97.42 L344.63,98.30 L344.83,99.27 L345.04,100.32 L345.24,101.43 L345.45,102.58 L345.65,103.75 L345.85,104.92 L346.06,106.07 L346.26,107.18 L346.47,108.22 L346.67,109.20 L346.88,110.08 L347.08,110.85 L347.28,111.50 L347.49,112.02 L347.69,112.40 L347.90,112.62 L348.10,112.70 L348.29,112.63 L348.48,112.44 L348.66,112.12 L348.85,111.68 L349.04,111.12 L349.23,110.46 L349.41,109.71 L349.60,108.88 L349.79,107.98 L349.98,107.03 L350.16,106.05 L350.35,105.05 L350.54,104.05 L350.73,103.07 L350.91,102.12 L351.10,101.22 L351.29,100.39 L351.48,99.64 L351.66,98.98 L351.85,98.42 L352.04,97.98 L352.23,97.66 L352.41,97.47 L352.60,97.40 L352.79,97.48 L352.98,97.70 L353.18,98.07 L353.37,98.59 L353.56,99.23 L353.75,99.99 L353.94,100.86 L354.13,101.83 L354.32,102.86 L354.52,103.96 L354.71,105.09 L354.90,106.25 L355.09,107.41 L355.28,108.54 L355.48,109.64 L355.67,110.67 L355.86,111.64 L356.05,112.51 L356.24,113.27 L356.43,113.91 L356.62,114.43 L356.82,114.80 L357.01,115.02 L357.20,115.10 L357.39,115.04 L357.58,114.85 L357.77,114.53 L357.97,114.10 L358.16,113.56 L358.35,112.92 L358.54,112.19 L358.73,111.38 L358.93,110.50 L359.12,109.58 L359.31,108.62 L359.50,107.65 L359.69,106.68 L359.88,105.72 L360.07,104.80 L360.27,103.93 L360.46,103.11 L360.65,102.38 L360.84,101.74 L361.03,101.20 L361.23,100.77 L361.42,100.45 L361.61,100.26 L361.80,100.20 L361.99,100.27 L362.18,100.49 L362.38,100.85 L362.57,101.34 L362.76,101.96 L362.95,102.69 L363.14,103.53 L363.33,104.45 L363.52,105.45 L363.72,106.50 L363.91,107.59 L364.10,108.70 L364.29,109.81 L364.48,110.90 L364.68,111.95 L364.87,112.95 L365.06,113.87 L365.25,114.71 L365.44,115.44 L365.63,116.06 L365.82,116.55 L366.02,116.91 L366.21,117.13 L366.40,117.20 L366.57,117.14 L366.73,116.95 L366.90,116.63 L367.07,116.20 L367.23,115.66 L367.40,115.02 L367.57,114.29 L367.73,113.48 L367.90,112.60 L368.07,111.68 L368.23,110.72 L368.40,109.75 L368.57,108.78 L368.73,107.82 L368.90,106.90 L369.07,106.03 L369.23,105.21 L369.40,104.48 L369.57,103.84 L369.73,103.30 L369.90,102.87 L370.07,102.55 L370.23,102.36 L370.40,102.30 L370.58,102.37 L370.77,102.59 L370.95,102.95 L371.13,103.44 L371.32,104.06 L371.50,104.79 L371.68,105.63 L371.87,106.55 L372.05,107.55 L372.23,108.60 L372.42,109.69 L372.60,110.80 L372.78,111.91 L372.97,113.00 L373.15,114.05 L373.33,115.05 L373.52,115.97 L373.70,116.81 L373.88,117.54 L374.07,118.16 L374.25,118.65 L374.43,119.01 L374.62,119.23 L374.80,119.30 L374.98,119.24 L375.16,119.05 L375.34,118.75 L375.52,118.33 L375.70,117.80 L375.88,117.18 L376.05,116.46 L376.23,115.67 L376.41,114.82 L376.59,113.93 L376.77,113.00 L376.95,112.05 L377.13,111.10 L377.31,110.17 L377.49,109.28 L377.67,108.42 L377.85,107.64 L378.03,106.92 L378.20,106.30 L378.38,105.77 L378.56,105.35 L378.74,105.05 L378.92,104.86 L379.10,104.80 L379.28,104.87 L379.47,105.08 L379.65,105.42 L379.83,105.89 L380.02,106.48 L380.20,107.19 L380.38,107.99 L380.57,108.87 L380.75,109.83 L380.93,110.84 L381.12,111.89 L381.30,112.95 L381.48,114.01 L381.67,115.06 L381.85,116.07 L382.03,117.02 L382.22,117.91 L382.40,118.71 L382.58,119.42 L382.77,120.01 L382.95,120.48 L383.13,120.82 L383.32,121.03 L383.50,121.10 L383.67,121.04 L383.83,120.86 L384.00,120.56 L384.17,120.16 L384.33,119.64 L384.50,119.04 L384.67,118.34 L384.83,117.58 L385.00,116.75 L385.17,115.87 L385.33,114.97 L385.50,114.05 L385.67,113.13 L385.83,112.23 L386.00,111.35 L386.17,110.53 L386.33,109.76 L386.50,109.06 L386.67,108.46 L386.83,107.94 L387.00,107.54 L387.17,107.24 L387.33,107.06 L387.50,107.00 L387.67,107.07 L387.84,107.27 L388.01,107.61 L388.18,108.07 L388.35,108.64 L388.52,109.33 L388.70,110.11 L388.87,110.97 L389.04,111.91 L389.21,112.89 L389.38,113.91 L389.55,114.95 L389.72,115.99 L389.89,117.01 L390.06,117.99 L390.23,118.92 L390.40,119.79 L390.58,120.57 L390.75,121.26 L390.92,121.83 L391.09,122.29 L391.26,122.63 L391.43,122.83 L391.60,122.90 L391.77,122.84 L391.93,122.66 L392.10,122.37 L392.27,121.96 L392.43,121.45 L392.60,120.85 L392.77,120.16 L392.93,119.40 L393.10,118.58 L393.27,117.71 L393.43,116.81 L393.60,115.90 L393.77,114.99 L393.93,114.09 L394.10,113.22 L394.27,112.40 L394.43,111.64 L394.60,110.95 L394.77,110.35 L394.93,109.84 L395.10,109.43 L395.27,109.14 L395.43,108.96 L395.60,108.90 L395.77,108.97 L395.94,109.16 L396.11,109.49 L396.28,109.93 L396.45,110.49 L396.62,111.16 L396.80,111.91 L396.97,112.75 L397.14,113.65 L397.31,114.61 L397.48,115.59 L397.65,116.60 L397.82,117.61 L397.99,118.59 L398.16,119.55 L398.33,120.45 L398.50,121.29 L398.68,122.04 L398.85,122.71 L399.02,123.27 L399.19,123.71 L399.36,124.04 L399.53,124.23 L399.70,124.30 L399.87,124.24 L400.03,124.08 L400.20,123.80 L400.37,123.42 L400.53,122.94 L400.70,122.37 L400.87,121.72 L401.03,121.00 L401.20,120.23 L401.37,119.41 L401.53,118.56 L401.70,117.70 L401.87,116.84 L402.03,115.99 L402.20,115.17 L402.37,114.40 L402.53,113.68 L402.70,113.03 L402.87,112.46 L403.03,111.98 L403.20,111.60 L403.37,111.32 L403.53,111.16 L403.70,111.10 L403.86,111.17 L404.03,111.36 L404.19,111.69 L404.36,112.13 L404.52,112.70 L404.69,113.36 L404.85,114.12 L405.02,114.96 L405.18,115.87 L405.35,116.83 L405.51,117.82 L405.67,118.82 L405.84,119.83 L406.00,120.82 L406.17,121.78 L406.33,122.69 L406.50,123.53 L406.66,124.29 L406.83,124.95 L406.99,125.52 L407.16,125.96 L407.32,126.29 L407.49,126.48 L407.65,126.55 L407.81,126.49 L407.97,126.31 L408.13,126.02 L408.29,125.62 L408.45,125.12 L408.61,124.52 L408.77,123.84 L408.93,123.09 L409.09,122.28 L409.25,121.42 L409.41,120.53 L409.57,119.62 L409.74,118.72 L409.90,117.83 L410.06,116.97 L410.22,116.16 L410.38,115.41 L410.54,114.73 L410.70,114.13 L410.86,113.63 L411.02,113.23 L411.18,112.94 L411.34,112.76 L411.50,112.70 L411.67,112.76 L411.83,112.96 L412.00,113.27 L412.17,113.71 L412.33,114.26 L412.50,114.91 L412.67,115.65 L412.83,116.47 L413.00,117.36 L413.17,118.30 L413.33,119.26 L413.50,120.25 L413.67,121.24 L413.83,122.20 L414.00,123.14 L414.17,124.02 L414.33,124.85 L414.50,125.59 L414.67,126.24 L414.83,126.79 L415.00,127.23 L415.17,127.54 L415.33,127.74 L415.50,127.80 L415.65,127.74 L415.81,127.57 L415.96,127.28 L416.12,126.89 L416.27,126.39 L416.43,125.81 L416.58,125.14 L416.73,124.40 L416.89,123.60 L417.04,122.76 L417.20,121.89 L417.35,121.00 L417.50,120.11 L417.66,119.24 L417.81,118.40 L417.97,117.60 L418.12,116.86 L418.27,116.19 L418.43,115.61 L418.58,115.11 L418.74,114.72 L418.89,114.43 L419.05,114.26 L419.20,114.20 L419.36,114.26 L419.52,114.46 L419.68,114.77 L419.83,115.21 L419.99,115.76 L420.15,116.41 L420.31,117.15 L420.47,117.97 L420.62,118.86 L420.78,119.80 L420.94,120.76 L421.10,121.75 L421.26,122.74 L421.42,123.70 L421.57,124.64 L421.73,125.53 L421.89,126.35 L422.05,127.09 L422.21,127.74 L422.37,128.29 L422.52,128.73 L422.68,129.04 L422.84,129.24" stroke="#00ff00" stroke-width="2.9"/>
</g>
<g stroke="#000" stroke-width="2.5" fill="none"><line x1="149.10" y1="248.5" x2="149.10" y2="244.9" /><line x1="240.35" y1="248.5" x2="240.35" y2="244.9" /><line x1="331.35" y1="248.5" x2="331.35" y2="244.9" /><line x1="58.5" y1="238.45" x2="62.1" y2="238.45" /><line x1="58.5" y1="184.91" x2="62.1" y2="184.91" /><line x1="58.5" y1="131.38" x2="62.1" y2="131.38" /><line x1="58.5" y1="77.85" x2="62.1" y2="77.85" /><line x1="58.5" y1="24.31" x2="62.1" y2="24.31" /></g>
<rect x="57.95" y="13.45" width="364.60" height="236.0" fill="none" stroke="#000" stroke-width="2.7"/>
<g id="txt" style="filter:grayscale(1)">
<text transform="translate(54.6,244.00) scale(1.04,1.12)" text-anchor="end">0</text><text transform="translate(54.6,190.47) scale(1.04,1.12)" text-anchor="end">0.25</text><text transform="translate(54.6,136.93) scale(1.04,1.12)" text-anchor="end">0.5</text><text transform="translate(54.6,83.40) scale(1.04,1.12)" text-anchor="end">0.75</text><text transform="translate(54.9,29.86) scale(1.04,1.12)" text-anchor="end">1</text><rect x="46" y="28.15" width="4.28" height="2.6" fill="#fff"/><rect x="51.85" y="28.15" width="3.4" height="2.6" fill="#fff"/><text transform="translate(58.30,266.9) scale(1.04,1.12)" text-anchor="middle">0</text><text transform="translate(149.05,266.9) scale(1.04,1.12)" text-anchor="middle">10</text><text transform="translate(331.45,266.9) scale(1.04,1.12)" text-anchor="middle">30</text><text transform="translate(422.50,266.9) scale(1.04,1.12)" text-anchor="middle">40</text><rect x="140.5" y="265.15" width="4.07" height="2.6" fill="#fff"/><rect x="145.95" y="265.15" width="3.2" height="2.6" fill="#fff"/>
<text transform="translate(12.9,131.4) rotate(-90) scale(1.125,1.13)" text-anchor="middle">T, R</text>
<text x="67" y="41.4" style="font-family:'Liberation Serif',serif;font-size:17px">(<tspan font-style="italic">b</tspan>)</text>
<path d="M243.2,260.7 L240.9,260.5 C238.9,260.5 238.3,262 238.3,263.5 C238.3,265 238.9,266.5 240.9,266.5 L243.2,266.3 M238.5,263.4 L242.6,263.4" fill="none" stroke="#000" stroke-width="1.25"/>
<text x="234.5" y="293.3" style="font-style:italic">v</text>
<text transform="translate(240.6,296.3) scale(1,1.06)" style="font-size:10.5px">0</text>
</g>
</svg>
</body></html>
